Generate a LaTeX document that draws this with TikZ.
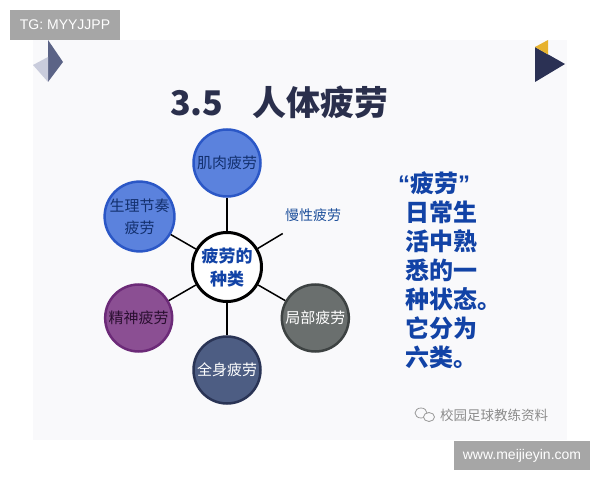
\documentclass[tikz,border=0pt]{standalone}
\usepackage{fontspec}
\setmainfont{Liberation Sans}
\newfontfamily\cjk{Noto Sans CJK SC}
\definecolor{slidebg}{HTML}{F9F9FB}
\definecolor{tagbg}{HTML}{A6A6A6}
\definecolor{titlecol}{HTML}{2A2F4C}
\definecolor{textblue}{HTML}{1243A6}
\definecolor{chronic}{HTML}{1D4F9B}
\definecolor{bluefill}{HTML}{5B82DD}
\definecolor{blueline}{HTML}{2B57C6}
\definecolor{bluetext}{HTML}{13306E}
\definecolor{purplefill}{HTML}{8B4F93}
\definecolor{purpleline}{HTML}{6C2A78}
\definecolor{purpletext}{HTML}{2A0F30}
\definecolor{navyfill}{HTML}{4D5D83}
\definecolor{navyline}{HTML}{2A3455}
\definecolor{grayfill}{HTML}{6A6F6E}
\definecolor{grayline}{HTML}{3D4242}
\definecolor{markdark}{HTML}{5B6386}
\definecolor{marklight}{HTML}{C9CCDC}
\definecolor{marknavy}{HTML}{2B3154}
\definecolor{markgold}{HTML}{E7B22E}
\begin{document}
\begin{tikzpicture}[x=1pt,y=1pt,
    ball/.style={circle,minimum size=67pt,inner sep=0pt,line width=2.5pt,align=center,
      font=\cjk\fontsize{15}{22}\selectfont},
    blueball/.style={ball,fill=bluefill,draw=blueline,text=bluetext},
    purpleball/.style={ball,fill=purplefill,draw=purpleline,text=purpletext},
    navyball/.style={ball,fill=navyfill,draw=navyline,text=white},
    grayball/.style={ball,fill=grayfill,draw=grayline,text=white},
    hub/.style={circle,minimum size=69pt,inner sep=0pt,line width=3pt,draw=black,fill=white,align=center,
      text=textblue,font=\cjk\bfseries\fontsize{17}{23}\selectfont},
    tagbox/.style={fill=tagbg,text=white,inner sep=0pt,font=\fontsize{14}{14}\selectfont}]
  \useasboundingbox (0,0) rectangle (600,480);
  \fill[slidebg] (33,40) rectangle (567,440);
  % corner marks
  \fill[markdark] (48,440) -- (63,418) -- (48,398) -- cycle;
  \fill[marklight] (48,423) -- (48,398) -- (33,415) -- cycle;
  \fill[marknavy] (535,433) -- (565,416) -- (535,398) -- cycle;
  \fill[markgold] (535,433) -- (548,440) -- (548,425.5) -- cycle;
  \node[tagbox,minimum width=110pt,minimum height=30pt] (tg) at (65,455) {TG: MYYJJPP};
  \node[anchor=west,inner sep=0pt,text=titlecol,font=\cjk\bfseries\fontsize{34}{34}\selectfont]
    (title) at (170,378) {3.5\hspace{0.85em}人体疲劳};
  \begin{scope}[shift={(227,213)}]
    \draw
      (0,0) node[hub] (0){疲劳的\\种类}
      (90:104) node[blueball] (1){肌肉疲劳}
      (150:101) node[blueball] (2){生理节奏\\疲劳}
      (210:102) node[purpleball] (3){精神疲劳}
      (270:103) node[navyball] (4){全身疲劳}
      (330:102) node[grayball] (5){局部疲劳};
    \coordinate (6) at (31:65);
    \node[text=chronic,font=\cjk\fontsize{14}{14}\selectfont] (7) at (86,52) {慢性疲劳};
  \end{scope}
  \begin{scope}[line width=1.5pt]
    \draw (0) to (1);
    \draw (0) to (2);
    \draw (0) to (3);
    \draw (0) to (4);
    \draw (0) to (5);
    \draw (0) to (6);
  \end{scope}
  \node[anchor=north west,inner sep=0pt,align=left,text=textblue,
    font=\cjk\bfseries\fontsize{24}{29}\selectfont] (note) at (405,309)
    {\hspace{-7pt}{\fontspec{Liberation Sans}\bfseries “}疲劳{\fontspec{Liberation Sans}\bfseries ”}\\
     日常生\\活中熟\\悉的一\\种状态。\\它分为\\六类。};
  % watermark
  \draw[gray!80,line width=0.8pt] (421,67) ellipse (6 and 5);
  \draw[gray!80,line width=0.8pt,fill=slidebg] (429,63) ellipse (5.5 and 4.5);
  \node[anchor=west,inner sep=0pt,text=gray!90,font=\cjk\fontsize{13.5}{14}\selectfont] (wm) at (440,65) {校园足球教练资料};
  \node[tagbox,minimum width=136pt,minimum height=29pt] (url) at (522,24.5) {www.meijieyin.com};
\end{tikzpicture}
\end{document}
